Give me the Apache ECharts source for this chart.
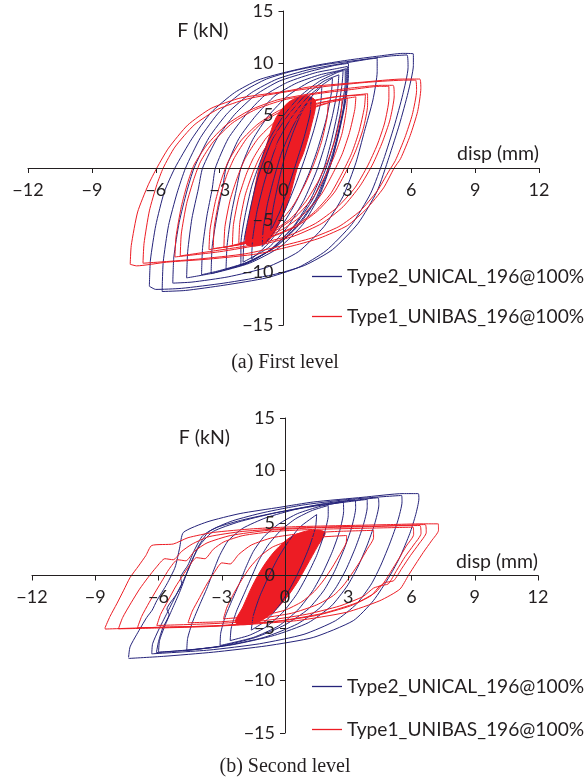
<!DOCTYPE html>
<html>
<head>
<meta charset="utf-8">
<script src="https://cdn.jsdelivr.net/npm/echarts@6/dist/echarts.min.js"></script>
<style>
  html, body { margin: 0; padding: 0; background: #fff; }
  #chart { width: 587px; height: 778px; }
</style>
</head>
<body>
<div id="chart"></div>
<script>
// series names
const NAME_T2 = "Type2_UNICAL_196@100%";
const NAME_T1 = "Type1_UNIBAS_196@100%";

// axis ticks
const xTicks = [-12, -9, -6, -3, 0, 3, 6, 9, 12];
const yTicks = [-15, -10, -5, 0, 5, 10, 15];

// ---- (a) First level, Type2 loops [disp mm, F kN]
const aBlue1 = [[-6.3,-11.3],[-6.25,-8.8],[-6.0,-5.5],[-5.6,-2.3],[-5.1,0],[-4.3,2.8],[-3.4,5.3],[-2.3,7.2],[-1.2,8.4],[0,9.1],[1.5,9.8],[3,10.3],[4.5,10.7],[5.6,10.95],[6.1,10.9],[6.1,9.8],[5.85,7.2],[5.45,4.2],[4.95,1.0],[4.4,-2.2],[3.5,-5.3],[2.3,-7.8],[1.0,-9.3],[-0.5,-10.2],[-2.8,-11.0],[-4.8,-11.5],[-6.0,-11.6],[-6.3,-11.3]];
const aBlue2 = [[-5.7,-11.8],[-5.65,-9.0],[-5.4,-5.5],[-5.0,-2.4],[-4.6,0],[-3.9,2.9],[-3.0,5.4],[-1.9,7.3],[-0.8,8.5],[0.5,9.3],[2,9.9],[3.5,10.3],[5.0,10.7],[5.8,10.8],[5.85,9.6],[5.6,7.0],[5.2,4.0],[4.7,0.8],[4.1,-2.4],[3.2,-5.4],[2.0,-7.9],[0.7,-9.5],[-0.8,-10.5],[-2.8,-11.2],[-4.6,-11.7],[-5.7,-11.8]];
const aBlue3 = [[-5.2,-11.0],[-5.15,-8.5],[-4.9,-5.2],[-4.55,-2.3],[-4.2,0],[-3.5,2.9],[-2.6,5.3],[-1.5,7.2],[-0.3,8.5],[1.2,9.4],[2.8,10.0],[4.0,10.4],[4.4,10.5],[4.4,9.2],[4.2,6.5],[3.8,3.5],[3.4,0.5],[2.8,-2.7],[1.9,-5.6],[0.7,-8.0],[-0.8,-9.5],[-2.6,-10.4],[-4.3,-10.9],[-5.2,-11.0]];
const aBlue4 = [[-4.55,-10.5],[-4.5,-8.0],[-4.3,-4.8],[-4.0,-2.0],[-3.8,0],[-3.1,2.9],[-2.3,5.1],[-1.3,7.0],[-0.2,8.3],[1.2,9.2],[2.4,9.8],[3.05,10.0],[3.05,8.8],[2.9,6.2],[2.6,3.3],[2.25,0.5],[1.7,-2.6],[0.9,-5.4],[-0.2,-7.6],[-1.6,-9.1],[-3.2,-10.0],[-4.55,-10.5]];
const aBlue5 = [[-3.85,-10.2],[-3.8,-7.6],[-3.6,-4.6],[-3.35,-2.0],[-3.2,0],[-2.6,2.8],[-1.8,5.0],[-0.9,6.9],[0.2,8.2],[1.5,9.1],[2.5,9.5],[3.0,9.7],[3.0,8.4],[2.85,5.9],[2.55,3.0],[2.2,0.3],[1.6,-2.8],[0.7,-5.5],[-0.4,-7.6],[-1.7,-9.0],[-3.0,-9.8],[-3.85,-10.2]];
const aBlue6 = [[-3.4,-10.1],[-3.35,-7.5],[-3.1,-4.3],[-2.85,-1.8],[-2.7,0],[-2.1,2.8],[-1.3,5.0],[-0.4,6.9],[0.6,8.1],[1.7,8.9],[2.6,9.3],[2.95,9.5],[2.95,8.2],[2.8,5.6],[2.5,2.8],[2.1,0],[1.5,-3.0],[0.6,-5.6],[-0.5,-7.7],[-1.8,-9.1],[-3.4,-10.1]];
const aBlue7 = [[-2.0,-9.3],[-2.0,-7.2],[-1.8,-4.5],[-1.5,-1.8],[-1.2,0],[-0.7,2.6],[0,5.0],[0.8,6.9],[1.7,8.3],[2.5,9.1],[2.8,9.3],[2.75,8.0],[2.55,5.4],[2.25,2.6],[1.9,0],[1.3,-2.9],[0.5,-5.5],[-0.5,-7.6],[-1.3,-8.7],[-2.0,-9.3]];
const aBlue8 = [[-1.5,-8.7],[-1.45,-6.8],[-1.25,-4.2],[-0.95,-1.7],[-0.7,0],[-0.25,2.6],[0.4,4.9],[1.1,6.7],[1.8,7.9],[2.3,8.6],[2.25,7.2],[2.0,4.6],[1.6,1.8],[1.2,-0.5],[0.6,-3.2],[-0.1,-5.6],[-0.8,-7.4],[-1.5,-8.7]];
const aBlue9 = [[-1.0,-7.5],[-0.95,-5.8],[-0.75,-3.4],[-0.45,-1.0],[-0.1,1.4],[0.4,3.8],[0.9,5.7],[1.4,7.0],[1.8,7.8],[1.75,6.3],[1.45,3.8],[1.05,1.2],[0.6,-1.4],[0.1,-3.9],[-0.4,-6.0],[-1.0,-7.5]];
const aBlue10 = [[-0.6,-6.0],[-0.5,-4.0],[-0.25,-1.5],[0.05,1.0],[0.45,3.4],[0.85,5.3],[1.3,6.8],[1.25,5.2],[0.95,2.8],[0.55,0.2],[0.15,-2.3],[-0.2,-4.3],[-0.6,-6.0]];
const aBlue11 = [[-2.7,-9.7],[-2.65,-7.4],[-2.45,-4.4],[-2.2,-1.9],[-2.0,0],[-1.45,2.7],[-0.7,5.0],[0.2,6.9],[1.2,8.2],[2.2,9.0],[2.9,9.4],[2.9,8.1],[2.7,5.5],[2.4,2.7],[2.0,0],[1.4,-2.9],[0.5,-5.6],[-0.6,-7.8],[-1.7,-9.1],[-2.7,-9.7]];
const aBlue12 = [[-1.9,-9.0],[-1.85,-6.9],[-1.6,-4.3],[-1.3,-1.6],[-1.0,0.3],[-0.5,2.8],[0.2,5.0],[1.0,6.9],[1.9,8.3],[2.6,8.9],[2.55,7.6],[2.3,5.0],[1.95,2.2],[1.55,-0.3],[0.95,-3.1],[0.2,-5.6],[-0.7,-7.6],[-1.9,-9.0]];

// ---- (a) First level, Type1 loops
const aRed1 = [[-7.2,-9.2],[-7.15,-7.4],[-6.85,-4.2],[-6.35,-1.6],[-5.95,0],[-5.4,1.9],[-4.5,4.1],[-3.4,5.7],[-2.0,6.7],[0,7.3],[1.4,7.8],[3.7,8.2],[5.6,8.5],[6.4,8.5],[6.45,7.6],[6.3,5.4],[5.95,3.1],[5.5,0.9],[5.2,0],[4.7,-1.9],[3.9,-3.9],[3.0,-5.5],[1.7,-6.7],[0.5,-7.4],[-1.2,-8.2],[-3.5,-8.7],[-5.5,-9.0],[-6.9,-9.35],[-7.2,-9.2]];
const aRed2 = [[-6.6,-9.1],[-6.55,-7.2],[-6.3,-4.1],[-5.95,-1.6],[-5.65,0],[-5.1,2.0],[-4.2,4.1],[-3.1,5.6],[-1.7,6.6],[0.2,7.3],[2.0,7.8],[4.0,8.2],[5.8,8.4],[6.2,8.4],[6.25,7.4],[6.05,5.1],[5.7,2.9],[5.25,0.7],[4.95,-0.3],[4.4,-2.2],[3.6,-4.1],[2.6,-5.6],[1.3,-6.7],[0,-7.4],[-1.8,-8.2],[-4.0,-8.7],[-6.6,-9.1]];
const aRed3 = [[-5.1,-8.5],[-5.05,-6.6],[-4.8,-3.7],[-4.5,-1.4],[-4.2,0.3],[-3.6,2.2],[-2.7,4.1],[-1.6,5.5],[-0.3,6.5],[1.3,7.1],[3.0,7.6],[4.6,7.9],[5.15,7.9],[5.2,6.9],[5.0,4.6],[4.65,2.5],[4.2,0.4],[3.6,-1.7],[2.8,-3.7],[1.8,-5.3],[0.5,-6.5],[-1.0,-7.3],[-3.0,-8.0],[-5.1,-8.5]];
const aRed4 = [[-4.85,-8.4],[-4.8,-6.3],[-4.55,-3.4],[-4.2,-1.0],[-3.9,0.6],[-3.3,2.5],[-2.4,4.3],[-1.3,5.6],[0,6.5],[1.6,7.1],[3.2,7.5],[4.5,7.8],[4.95,7.8],[4.95,6.6],[4.75,4.3],[4.4,2.2],[3.95,0.2],[3.35,-1.9],[2.5,-3.8],[1.5,-5.3],[0.2,-6.5],[-1.3,-7.3],[-3.2,-7.9],[-4.85,-8.4]];
const aRed5 = [[-3.5,-7.8],[-3.45,-5.9],[-3.2,-3.2],[-2.9,-1.0],[-2.6,0.6],[-2.0,2.6],[-1.2,4.2],[-0.2,5.5],[1.0,6.3],[2.4,6.8],[3.5,7.0],[3.95,7.1],[3.95,6.0],[3.75,3.8],[3.4,1.7],[2.95,-0.3],[2.4,-2.3],[1.6,-4.1],[0.6,-5.6],[-0.6,-6.6],[-2.0,-7.3],[-3.5,-7.8]];
const aRed6 = [[-3.3,-7.7],[-3.25,-5.6],[-3.0,-2.9],[-2.65,-0.6],[-2.3,1.0],[-1.7,2.9],[-0.9,4.5],[0.1,5.6],[1.2,6.3],[2.5,6.8],[3.85,7.0],[3.8,5.8],[3.55,3.5],[3.2,1.4],[2.75,-0.5],[2.2,-2.5],[1.4,-4.3],[0.4,-5.7],[-0.8,-6.7],[-2.0,-7.3],[-3.3,-7.7]];
const aRed7 = [[-2.4,-7.4],[-2.35,-5.4],[-2.1,-2.8],[-1.75,-0.6],[-1.4,1.0],[-0.8,2.9],[0,4.5],[0.9,5.6],[1.9,6.3],[3.0,6.7],[2.95,5.5],[2.75,3.3],[2.4,1.2],[1.95,-0.8],[1.4,-2.8],[0.6,-4.6],[-0.3,-5.9],[-1.3,-6.8],[-2.4,-7.4]];
const aRed8 = [[-2.1,-7.2],[-2.05,-5.2],[-1.8,-2.6],[-1.45,-0.5],[-1.1,1.1],[-0.5,3.0],[0.3,4.6],[1.1,5.6],[2.0,6.2],[2.75,6.5],[2.7,5.2],[2.45,2.9],[2.1,0.8],[1.65,-1.2],[1.05,-3.2],[0.3,-4.9],[-0.6,-6.1],[-1.4,-6.8],[-2.1,-7.2]];
const aRed9 = [[-1.6,-7.0],[-1.55,-5.0],[-1.3,-2.5],[-0.95,-0.4],[-0.55,1.4],[0,3.2],[0.65,4.7],[1.35,5.7],[2.1,6.2],[2.05,4.9],[1.8,2.6],[1.45,0.5],[1.0,-1.6],[0.45,-3.6],[-0.2,-5.2],[-0.9,-6.4],[-1.6,-7.0]];
const aRed10 = [[-2.8,-7.6],[-2.75,-5.6],[-2.5,-3.0],[-2.15,-0.8],[-1.8,0.9],[-1.2,2.8],[-0.4,4.4],[0.5,5.5],[1.6,6.2],[2.8,6.6],[3.4,6.8],[3.35,5.6],[3.1,3.4],[2.75,1.3],[2.3,-0.6],[1.75,-2.6],[0.95,-4.4],[0,-5.8],[-1.1,-6.8],[-2.8,-7.6]];
// dense small-cycle region (outline)
const aRedCore = [[-1.75,-7.3],[-1.65,-5.0],[-1.4,-2.5],[-1.15,0],[-0.75,2.5],[-0.35,4.8],[0.25,6.3],[1.0,6.9],[1.5,6.4],[1.3,4.0],[0.95,1.5],[0.65,0],[0.25,-3.0],[-0.25,-5.5],[-0.85,-7.2]];

// ---- (b) Second level, Type2 loops
const bBlue1 = [[-7.42,-7.8],[-7.35,-6.8],[-7.03,-5.6],[-6.56,-4.0],[-6.3,-3.3],[-6.08,-2.4],[-5.6,-0.8],[-5.21,0.8],[-5.0,2.6],[-4.82,4.1],[-3.7,5.1],[-2.13,5.9],[-0.24,6.5],[1.34,7.0],[3.7,7.45],[5.6,7.8],[6.32,7.8],[6.35,7.3],[6.2,5.8],[5.92,4.0],[5.45,1.75],[4.98,0],[4.19,-2.4],[3.24,-4.3],[1.34,-5.9],[-0.87,-6.7],[-3.4,-7.3],[-5.77,-7.7],[-7.42,-7.9]];
const bBlue2 = [[-6.32,-7.46],[-6.28,-6.5],[-6.0,-5.2],[-5.6,-3.6],[-5.2,-2.0],[-4.8,-0.4],[-4.45,1.2],[-4.1,2.8],[-3.6,4.2],[-2.5,5.2],[-1.0,6.0],[0.8,6.7],[2.8,7.2],[4.6,7.5],[5.53,7.62],[5.55,7.0],[5.35,5.2],[5.0,3.2],[4.55,1.0],[4.1,-0.8],[3.4,-2.7],[2.4,-4.3],[0.9,-5.6],[-1.2,-6.5],[-3.6,-7.1],[-6.32,-7.46]];
const bBlue3 = [[-6.0,-7.3],[-5.95,-6.2],[-5.7,-4.8],[-5.35,-3.2],[-5.0,-1.6],[-4.7,0],[-4.4,1.5],[-4.0,3.0],[-3.4,4.2],[-2.2,5.1],[-0.6,5.9],[1.2,6.6],[3.0,7.1],[4.42,7.4],[4.45,6.7],[4.25,4.9],[3.9,2.9],[3.45,0.8],[2.95,-1.0],[2.2,-2.9],[1.1,-4.5],[-0.5,-5.7],[-2.5,-6.6],[-4.5,-7.1],[-6.0,-7.3]];
const bBlue4 = [[-4.66,-7.14],[-4.62,-6.0],[-4.4,-4.5],[-4.05,-2.8],[-3.7,-1.2],[-3.4,0.4],[-3.1,1.9],[-2.7,3.3],[-2.0,4.5],[-0.9,5.5],[0.5,6.3],[2.0,6.9],[3.32,7.2],[3.35,6.4],[3.15,4.5],[2.8,2.5],[2.35,0.4],[1.85,-1.4],[1.1,-3.2],[0.0,-4.7],[-1.4,-5.9],[-3.0,-6.7],[-4.66,-7.14]];
const bBlue5 = [[-3.08,-6.67],[-3.05,-5.5],[-2.85,-4.0],[-2.5,-2.3],[-2.15,-0.7],[-1.85,0.8],[-1.5,2.3],[-1.0,3.7],[-0.3,4.9],[0.6,5.9],[1.7,6.6],[2.76,7.0],[2.78,6.1],[2.6,4.3],[2.25,2.3],[1.8,0.3],[1.3,-1.5],[0.6,-3.3],[-0.3,-4.8],[-1.5,-5.9],[-3.08,-6.67]];
const bBlue6 = [[-2.6,-6.2],[-2.55,-5.0],[-2.3,-3.4],[-1.95,-1.8],[-1.6,-0.2],[-1.25,1.4],[-0.8,2.9],[-0.2,4.3],[0.5,5.4],[1.3,6.2],[2.05,6.67],[2.05,5.7],[1.85,3.9],[1.5,1.9],[1.05,0],[0.55,-1.8],[-0.1,-3.5],[-0.9,-4.9],[-1.7,-5.7],[-2.6,-6.2]];
const bBlue7 = [[-1.6,-5.2],[-1.5,-3.8],[-1.2,-2.0],[-0.8,-0.2],[-0.35,1.6],[0.15,3.2],[0.7,4.6],[1.5,5.8],[1.45,4.6],[1.15,2.7],[0.75,0.8],[0.3,-1.0],[-0.25,-2.8],[-0.9,-4.3],[-1.6,-5.2]];
const bBlue8 = [[-6.1,-7.35],[-6.0,-6.3],[-5.8,-5.0],[-5.5,-3.7],[-5.6,-3.2],[-5.15,-1.8],[-4.9,-0.8],[-4.95,-0.2],[-4.6,1.0],[-4.3,2.4],[-3.9,3.8],[-3.2,4.6],[-2.0,5.3],[-0.4,6.0],[1.4,6.6],[2.9,7.0],[3.9,7.25],[3.9,6.5],[3.7,4.7],[3.35,2.7],[2.9,0.6],[2.4,-1.2],[1.7,-3.0],[0.6,-4.6],[-1.0,-5.9],[-3.2,-6.8],[-6.1,-7.35]];

// ---- (b) Second level, Type1 loops
const bRed1 = [[-8.53,-4.95],[-8.3,-3.9],[-7.98,-2.7],[-7.65,-1.4],[-7.35,-0.2],[-6.95,0.9],[-6.6,1.9],[-6.32,2.86],[-5.3,3.0],[-4.6,3.6],[-3.4,4.1],[-1.5,4.45],[0.5,4.65],[2.9,4.76],[5.0,4.85],[6.5,4.92],[7.27,4.92],[7.28,4.3],[6.95,3.3],[6.56,2.2],[6.2,1.1],[5.85,0],[5.45,-1.3],[4.5,-2.4],[2.92,-3.5],[0.55,-4.3],[-2.6,-4.76],[-5.77,-4.92],[-8.53,-5.1],[-8.53,-4.95]];
const bRed2 = [[-7.9,-5.08],[-7.7,-4.0],[-7.3,-2.6],[-6.9,-1.3],[-6.5,-0.2],[-6.1,0.8],[-5.7,1.6],[-5.3,1.5],[-4.9,2.3],[-4.4,3.0],[-3.6,3.7],[-2.0,4.2],[0.2,4.5],[2.5,4.65],[4.8,4.72],[6.4,4.76],[6.45,4.0],[6.1,2.9],[5.7,1.8],[5.3,0.5],[4.9,-0.8],[4.5,-1.0],[4.1,-1.9],[3.1,-2.9],[1.5,-3.8],[-0.5,-4.4],[-3.5,-4.85],[-6.0,-5.0],[-7.9,-5.08]];
const bRed3 = [[-6.08,-4.76],[-5.9,-3.7],[-5.55,-2.4],[-5.2,-1.1],[-4.85,0],[-4.55,0.9],[-4.2,1.7],[-3.8,1.6],[-3.4,2.5],[-2.9,3.2],[-2.0,3.8],[-0.5,4.2],[1.5,4.4],[3.8,4.5],[6.08,4.6],[6.1,3.9],[5.75,2.8],[5.4,1.6],[5.0,0.3],[4.6,-0.9],[4.2,-1.2],[3.7,-2.0],[2.6,-2.9],[1.0,-3.7],[-1.0,-4.3],[-3.6,-4.6],[-6.08,-4.76]];
const bRed4 = [[-4.6,-4.5],[-4.4,-3.4],[-4.05,-2.1],[-3.7,-0.8],[-3.35,0.3],[-3.0,1.2],[-2.6,1.1],[-2.2,2.0],[-1.6,2.9],[-0.6,3.6],[0.8,4.0],[2.5,4.2],[4.2,4.3],[4.2,3.6],[3.9,2.5],[3.55,1.3],[3.15,0.1],[2.75,-1.0],[2.3,-1.9],[1.5,-2.8],[0.3,-3.6],[-1.3,-4.1],[-3.0,-4.4],[-4.6,-4.5]];
const bRed5 = [[-2.92,-4.13],[-2.75,-3.0],[-2.4,-1.6],[-2.05,-0.4],[-1.65,0.8],[-1.2,1.8],[-0.6,2.7],[0.2,3.3],[1.2,3.6],[2.92,3.81],[2.9,3.1],[2.6,2.0],[2.25,0.8],[1.85,-0.4],[1.4,-1.5],[0.8,-2.5],[0,-3.3],[-1.1,-3.8],[-2.92,-4.13]];
const bRed6 = [[-7.0,-4.98],[-6.8,-3.9],[-6.45,-2.6],[-6.1,-1.4],[-5.8,-0.4],[-5.5,0.6],[-5.1,1.5],[-4.7,1.4],[-4.3,2.3],[-3.7,3.1],[-2.6,3.8],[-0.8,4.3],[1.5,4.55],[4.0,4.65],[6.65,4.85],[6.7,4.1],[6.35,3.0],[5.95,1.9],[5.55,0.7],[5.15,-0.5],[4.7,-0.7],[4.3,-1.6],[3.4,-2.6],[1.8,-3.6],[-0.2,-4.3],[-3.4,-4.8],[-7.0,-4.98]];
const bRedCore = [[-2.35,-4.5],[-2.0,-3.0],[-1.55,-1.0],[-1.05,0.8],[-0.45,2.4],[0.3,3.7],[1.2,4.3],[1.9,4.1],[1.55,2.8],[1.05,1.0],[0.6,-0.6],[0,-2.3],[-0.75,-3.8],[-1.5,-4.6]];

const aBlueLoops = [aBlue1, aBlue2, aBlue3, aBlue4, aBlue5, aBlue6, aBlue11, aBlue7, aBlue12, aBlue8, aBlue9, aBlue10];
const aRedLoops = [aRed1, aRed2, aRed3, aRed4, aRed5, aRed6, aRed10, aRed7, aRed8, aRed9];
const bBlueLoops = [bBlue1, bBlue2, bBlue8, bBlue3, bBlue4, bBlue5, bBlue6, bBlue7];
const bRedLoops = [bRed1, bRed2, bRed6, bRed3, bRed4, bRed5];

const BLUE = "#25237a";
const RED = "#ed1c24";
const FONT = "Lato, 'Open Sans', sans-serif";
const INK = "#231f20";

function loopSeries(loops, name, color, idx) {
  return loops.map(function (pts) {
    return {
      name: name,
      type: "line",
      xAxisIndex: idx,
      yAxisIndex: idx,
      data: pts,
      symbol: "none",
      smooth: 0.2,
      lineStyle: { color: color, width: 1 },
      itemStyle: { color: color },
      silent: true,
    };
  });
}

// filled band for the many overlapping small cycles
function coreSeries(pts, color, idx) {
  return {
    type: "custom",
    xAxisIndex: idx,
    yAxisIndex: idx,
    silent: true,
    data: [[0, 0]],
    renderItem: function (params, api) {
      return {
        type: "polygon",
        shape: { points: pts.map(function (p) { return api.coord(p); }), smooth: 0.3 },
        style: { fill: color, stroke: color, lineWidth: 1 },
      };
    },
  };
}

function minusFmt(v) {
  return v < 0 ? "\u2212" + Math.abs(v) : String(v);
}

// axes sit on the zero lines: shift them half the grid size inwards
function xAxisCfg(idx, shift) {
  return {
    type: "value",
    gridIndex: idx,
    z: 5,
    min: xTicks[0],
    max: xTicks[xTicks.length - 1],
    interval: 3,
    offset: -shift,
    name: "disp (mm)",
    nameLocation: "end",
    nameGap: 0,
    nameTextStyle: { fontFamily: FONT, fontSize: 19.5, color: INK, align: "right", verticalAlign: "bottom", padding: [0, 0, 4, 0] },
    axisLine: { onZero: false, lineStyle: { color: INK, width: 1 } },
    axisTick: { show: true, length: 5, lineStyle: { color: INK } },
    axisLabel: { fontFamily: FONT, fontSize: 18, color: INK, margin: 13, formatter: minusFmt },
    splitLine: { show: false },
  };
}

function yAxisCfg(idx, shift) {
  return {
    type: "value",
    gridIndex: idx,
    z: 5,
    min: yTicks[0],
    max: yTicks[yTicks.length - 1],
    interval: 5,
    offset: -shift,
    name: "F (kN)",
    nameLocation: "end",
    nameGap: -30,
    nameTextStyle: { fontFamily: FONT, fontSize: 19.5, color: INK, align: "right", padding: [0, 55, 0, 0] },
    axisLine: { onZero: false, lineStyle: { color: INK, width: 1 } },
    axisTick: { show: true, length: 5, lineStyle: { color: INK } },
    axisLabel: { fontFamily: FONT, fontSize: 18, color: INK, margin: 10, formatter: minusFmt },
    splitLine: { show: false },
  };
}

function legendCfg(top, gap) {
  return {
    orient: "vertical",
    left: 312,
    top: top,
    padding: 0,
    icon: "rect",
    itemWidth: 30,
    itemHeight: 1.3,
    itemGap: gap,
    selectedMode: false,
    data: [NAME_T2, NAME_T1],
    textStyle: { fontFamily: FONT, fontSize: 19.2, color: INK },
  };
}

const chart = echarts.init(document.getElementById("chart"));

const option = {
  animation: false,
  backgroundColor: "#fff",
  grid: [
    { left: 28, right: 48, top: 11, height: 314, outerBoundsMode: "none", containLabel: false },
    { left: 32, right: 49, top: 418, height: 315, outerBoundsMode: "none", containLabel: false },
  ],
  xAxis: [xAxisCfg(0, 157), xAxisCfg(1, 157.5)],
  yAxis: [yAxisCfg(0, 255.5), yAxisCfg(1, 253)],
  legend: [legendCfg(267, 21), legendCfg(677, 24)],
  graphic: [
    { type: "text", x: 285, y: 363, style: { text: "(a) First level", font: "20px 'Liberation Serif', 'Times New Roman', serif", fill: INK, textAlign: "center", textVerticalAlign: "middle" } },
    { type: "text", x: 285, y: 767, style: { text: "(b) Second level", font: "20px 'Liberation Serif', 'Times New Roman', serif", fill: INK, textAlign: "center", textVerticalAlign: "middle" } },
  ],
  series: []
    .concat(loopSeries(aBlueLoops, NAME_T2, BLUE, 0))
    .concat(loopSeries(bBlueLoops, NAME_T2, BLUE, 1))
    .concat(loopSeries(aRedLoops, NAME_T1, RED, 0))
    .concat(loopSeries(bRedLoops, NAME_T1, RED, 1))
    .concat([coreSeries(aRedCore, RED, 0), coreSeries(bRedCore, RED, 1)]),
};

chart.setOption(option);
</script>
</body>
</html>
